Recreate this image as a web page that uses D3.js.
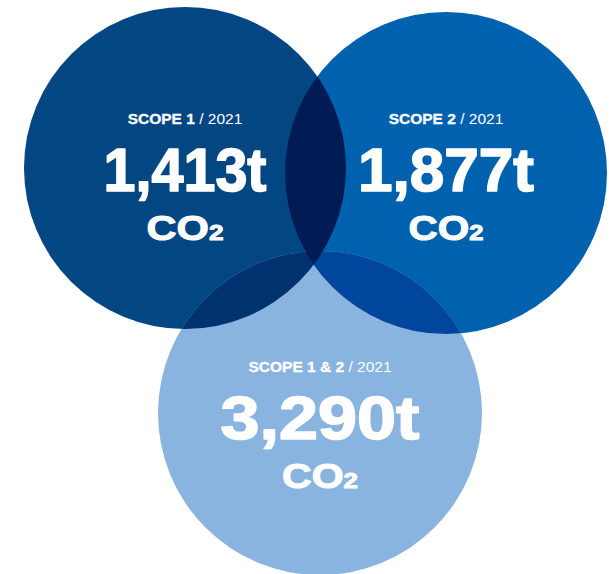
<!DOCTYPE html>
<html>
<head>
<meta charset="utf-8">
<script src="https://cdn.jsdelivr.net/npm/d3@7"></script>
<style>
  html, body { margin: 0; padding: 0; background: #ffffff; }
  svg { display: block; }
  text { font-family: "Liberation Sans", Arial, Helvetica, sans-serif; fill: #ffffff; }
</style>
</head>
<body>
<div id="chart"></div>
<script>
// ---- data ----
const categories = ["SCOPE 1", "SCOPE 2", "SCOPE 1 & 2"];
const years = ["2021", "2021", "2021"];
const values = [1413, 1877, 3290];
const unitSuffix = "t";
const gasMain = "CO";
const gasSub = "2";

// ---- layout / style (kept separate from data) ----
const W = 609, H = 574;
const circleX = [185, 446, 320];
const circleY = [168, 173, 413];
const circleR = [161, 161, 162];
const labelY = [124, 124, 372];
const numberY = [191, 191, 439];
const gasY = [240, 240, 488];
const numberWidth = [163, 176, 199];
const gasWidth = [77, 75, 76];
const baseColors = ["#034782", "#0062ae", "#8ab4e0"];
const overlapLeftBottom = "#003270";
const overlapRightBottom = "#00469c";
const overlapLeftRight = "#011b55";

const fmt = d3.format(",");

const items = categories.map((c, i) => ({
  i, category: c, year: years[i], value: values[i],
  cx: circleX[i], cy: circleY[i], r: circleR[i]
}));

const svg = d3.select("#chart").append("svg")
  .attr("width", W).attr("height", H);

const defs = svg.append("defs");
items.forEach(d => {
  defs.append("clipPath").attr("id", "clip" + d.i)
    .append("circle").attr("cx", d.cx).attr("cy", d.cy).attr("r", d.r);
});

// base circles
svg.append("g").selectAll("circle").data(items).join("circle")
  .attr("cx", d => d.cx).attr("cy", d => d.cy).attr("r", d => d.r)
  .attr("fill", d => baseColors[d.i]);

// overlaps with the bottom circle
const gB = svg.append("g").attr("clip-path", "url(#clip2)");
gB.append("circle").attr("cx", items[0].cx).attr("cy", items[0].cy).attr("r", items[0].r)
  .attr("fill", overlapLeftBottom);
gB.append("circle").attr("cx", items[1].cx).attr("cy", items[1].cy).attr("r", items[1].r)
  .attr("fill", overlapRightBottom);

// overlap of the two top circles
svg.append("g").attr("clip-path", "url(#clip0)")
  .append("circle").attr("cx", items[1].cx).attr("cy", items[1].cy).attr("r", items[1].r)
  .attr("fill", overlapLeftRight);

// text
const tg = svg.append("g").selectAll("g").data(items).join("g");

const lab = tg.append("text")
  .attr("x", d => d.cx).attr("y", d => labelY[d.i])
  .attr("text-anchor", "middle")
  .style("font-size", "15.5px");
lab.append("tspan").style("font-weight", "bold")
  .attr("stroke", "#ffffff").attr("stroke-width", 0.3)
  .text(d => d.category);
lab.append("tspan").style("font-weight", "normal")
  .text(d => " / " + d.year);

tg.append("text")
  .attr("x", d => d.cx).attr("y", d => numberY[d.i])
  .attr("text-anchor", "middle")
  .attr("textLength", d => numberWidth[d.i])
  .attr("lengthAdjust", "spacingAndGlyphs")
  .attr("stroke", "#ffffff").attr("stroke-width", 1.6).attr("stroke-linejoin", "round")
  .style("font-size", "61px").style("font-weight", "bold")
  .text(d => fmt(d.value) + unitSuffix);

const gt = tg.append("text")
  .attr("x", d => d.cx).attr("y", d => gasY[d.i])
  .attr("text-anchor", "middle")
  .attr("textLength", d => gasWidth[d.i])
  .attr("lengthAdjust", "spacingAndGlyphs")
  .attr("stroke", "#ffffff").attr("stroke-width", 1).attr("stroke-linejoin", "round")
  .style("font-weight", "bold");
gt.append("tspan").style("font-size", "35px").text(gasMain);
gt.append("tspan").style("font-size", "22px").text(gasSub);
</script>
</body>
</html>
